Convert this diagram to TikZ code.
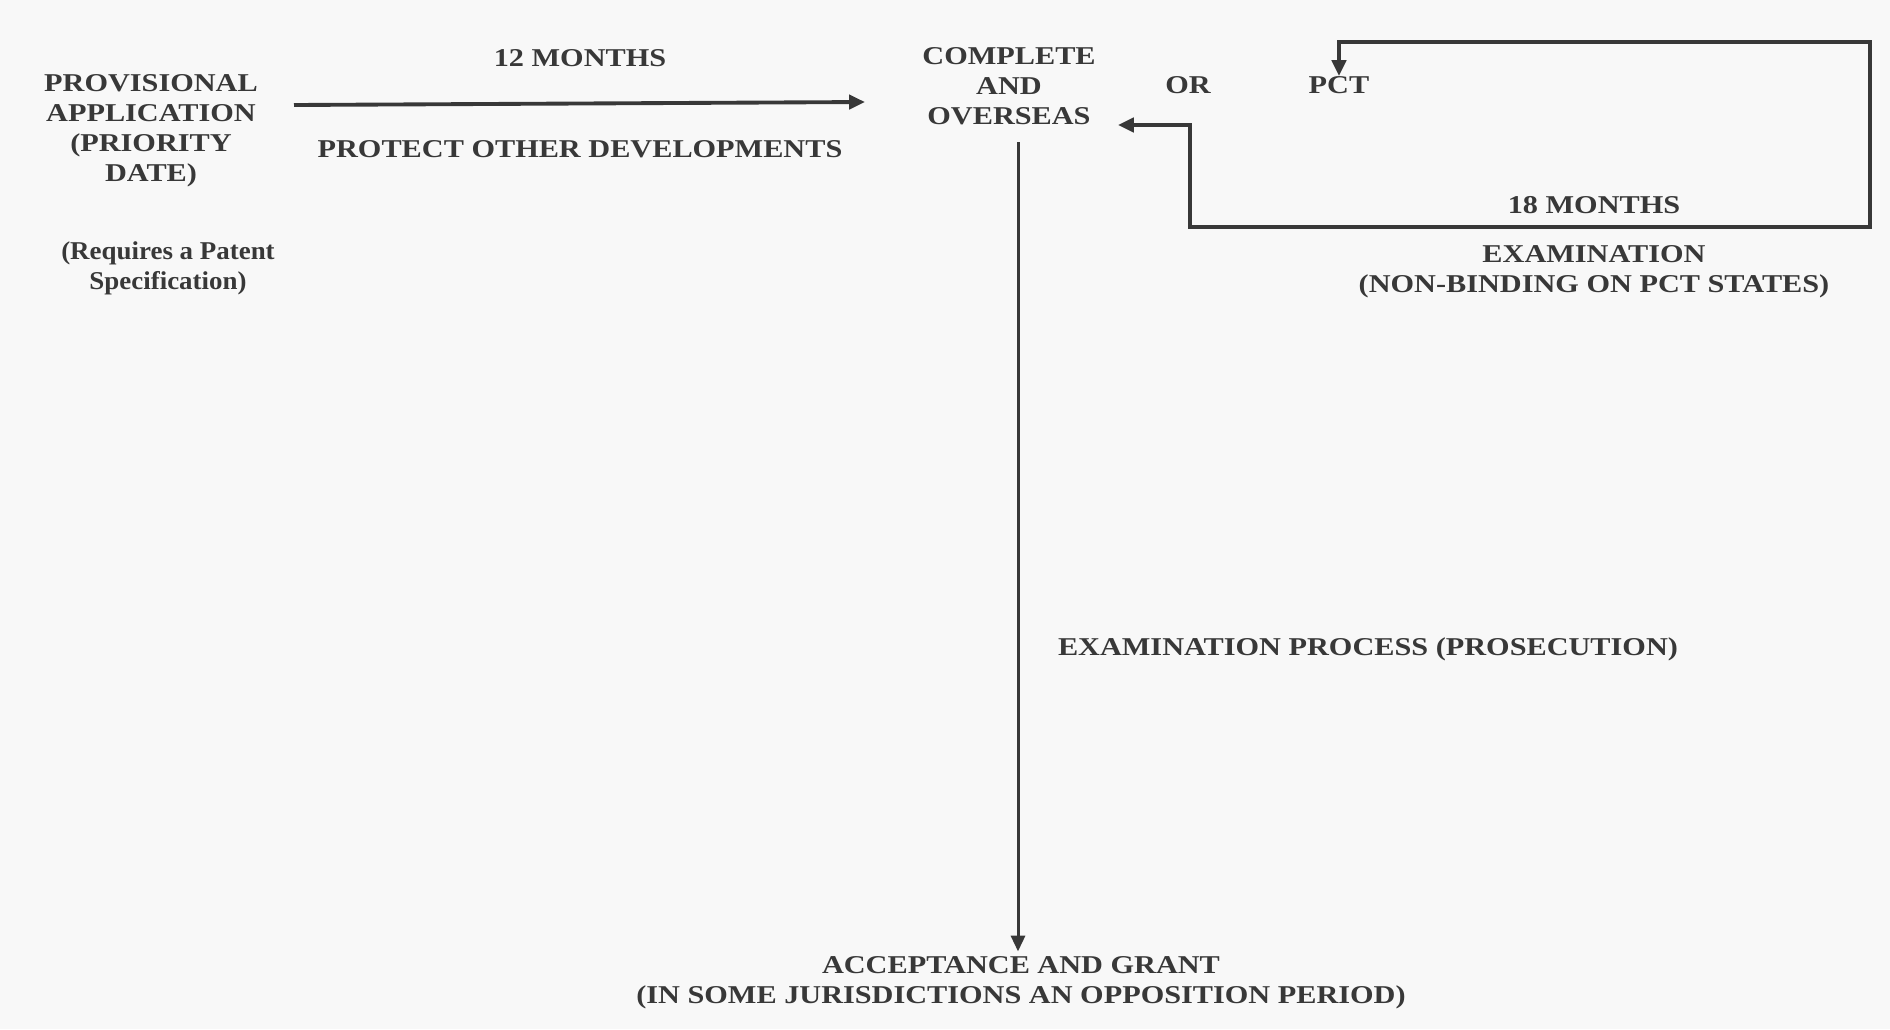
\documentclass[tikz,border=0pt]{standalone}
\usepackage{fontspec}
\setmainfont{Liberation Serif}[FakeStretch=1.18]
\newfontfamily\reqfont{Liberation Serif}[FakeStretch=1.05]
\usetikzlibrary{positioning,calc,arrows.meta}
\definecolor{ink}{HTML}{383838}
\definecolor{paper}{HTML}{F8F8F8}

\begin{document}
\begin{tikzpicture}[x=0.02cm, y=-0.02cm,
		txt/.style={align=center, inner sep=0pt, text=ink, font=\bfseries\fontsize{14.6}{17.1}\selectfont},
		flow/.style={draw=ink, line width=2.2pt, -{Triangle[length=9pt, width=8pt]}}]
		\fill[paper] (0, 0) rectangle (1890, 1029);
		\useasboundingbox (0, 0) rectangle (1890, 1029);

		\node[txt] (prov) at (151, 131) {PROVISIONAL\\APPLICATION\\(PRIORITY\\DATE)};
		\node[txt, font=\reqfont\bfseries\fontsize{14.6}{17.1}\selectfont] (req) at (168, 268) {(Requires a Patent\\Specification)};
		\node[txt] (m12) at (580, 58) {12 MONTHS};
		\node[txt] (protect) at (580, 149) {PROTECT OTHER DEVELOPMENTS};
		\node[txt] (complete) at (1009, 86) {COMPLETE\\AND\\OVERSEAS};
		\node[txt] (or) at (1188, 85) {OR};
		\node[txt] (pct) at (1339, 85) {PCT};
		\node[txt] (m18) at (1594, 205) {18 MONTHS};
		\node[txt] (exam) at (1594, 272) {EXAMINATION\\(NON-BINDING ON PCT STATES)};
		\node[txt] (process) at (1368, 649) {EXAMINATION PROCESS (PROSECUTION)};
		\node[txt] (grant) at (1021, 983) {ACCEPTANCE AND GRANT\\(IN SOME JURISDICTIONS AN OPPOSITION PERIOD)};

		\coordinate (s12) at (294, 105);
		\coordinate (e12) at (865, 102);
		\draw[flow] (s12) -- (e12);

		\draw[flow, {Triangle[length=9pt, width=8pt]}-{Triangle[length=9pt, width=8pt]}] ($(complete.east) + (22, 39)$) -| (1190, 227) -| (1870, 42) -| (pct.north);

		\draw[flow, line width=1.7pt] ($(complete.south -| grant.north) + (-3, 17)$) -- ($(grant.north) + (-3, -5)$);
	\end{tikzpicture}
\end{document}
